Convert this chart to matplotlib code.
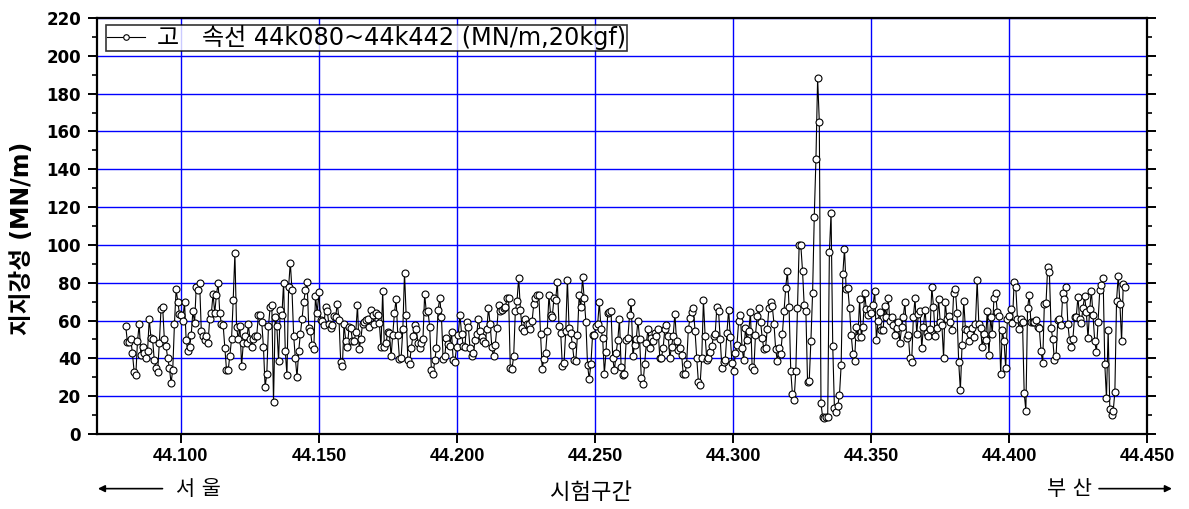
import numpy as np
import matplotlib
matplotlib.use("Agg")
import matplotlib.pyplot as plt
from matplotlib.ticker import MultipleLocator, FormatStrFormatter

plt.rcParams['font.family'] = ['DejaVu Sans', 'Noto Sans CJK KR']

# stiffness, 44k080 .. 44k442, left to right
seg1 = [57, 48.7, 48.5, 50, 42.6, 33, 31, 49, 58, 42,
        46, 43, 40, 44, 61, 51, 50, 39, 35, 33,
        48, 66, 67, 50, 46.5, 40, 35, 27, 34, 58,
        76.5, 70, 63.5, 63, 60, 70, 49.5, 44, 46, 52.6,
        65, 58.6, 78, 76, 80, 54.5, 52, 49.5, 52, 48,
        61, 64, 74, 64, 73.5, 80, 64, 58, 57.7, 45.5,
        34, 33.7, 41.5, 50, 71, 95.6, 56.7, 50, 57, 36,
        48, 52, 48, 58, 50, 46, 50, 52, 52, 63,
        63, 59, 46, 25, 31.6, 57, 67.4, 68, 16.7, 62,
        57, 38.5, 65.6, 63, 80, 44, 31, 78, 90.7]
seg2 = [76, 52, 40, 30, 44, 53, 61, 70, 76, 80.6,
        56, 54.5, 47, 45, 73, 64, 75, 60.5, 60, 57.4,
        67, 65, 58, 56, 57.4, 62.6, 62, 69, 60.5, 38.3,
        36, 58, 49.4, 46, 56.7, 56, 49.4, 49, 54, 68,
        45, 50, 58.4, 59.5, 60.5, 61, 56.7, 65.5, 62.7, 58,
        64, 63, 58.7, 46, 75.7, 46, 48, 54, 53.5, 41,
        52.4, 64, 71.3, 52.4, 39.7, 40.4, 55.3, 85.4, 62.7, 39.4,
        37, 45.4, 52, 57.4, 55.3, 48, 45.7, 48, 50.3, 74,
        64.4, 64.8, 56.7, 34, 31.8, 38.9, 45.6, 65.5, 72, 62,
        39.7, 41, 51, 47.7, 46.4, 54, 39, 38.3, 46, 52.6, 63]
seg3 = [53, 46.4, 46, 59.5, 56.7, 45.4, 41, 42.7, 49.6, 53,
        61, 54.5, 51.4, 49.3, 48, 55.5, 66.5, 58, 46, 41,
        47, 56, 68, 65, 65.8, 66.5, 67, 71.8, 71.8, 35,
        34.5, 41, 65, 70.6, 82.6, 65.8, 56, 54.4, 60.6, 58,
        58.4, 55.6, 60, 69, 72, 73.4, 73.4, 53, 34.5, 39.8,
        42.6, 54.4, 73.4, 63, 62, 72, 71, 80.4, 57, 53.5,
        36, 37.6, 54.4, 81.7, 56, 53.5, 47, 39, 38.5, 52.6,
        73.4, 67, 82.8, 71.8, 59.5, 36.4, 29, 37, 52.6, 52.6,
        57, 58, 69.7, 55.6, 50.7, 32, 43.2, 64, 64.4, 64.8,
        40, 33.7, 42.7, 49.6, 61, 35.3, 31.3, 32, 49.6, 50.7, 63, 69.7]
seg4 = [41.2, 47.3, 50.3, 60, 50.3, 29.7, 26.2, 37, 48, 55.6,
        45.4, 51, 49, 53.5, 52, 55.6, 40.4, 40.4, 45.4, 55.6,
        57.4, 52, 40.4, 46, 52, 63.7, 49, 44.3, 45.6, 42,
        31.5, 31.6, 37, 55.3, 61.4, 64.4, 66.9, 54.5, 40.4, 27.4,
        26, 40.4, 70.7, 52, 39.3, 40.2, 43.5, 46.4, 52, 53,
        67.2, 65, 50.3, 35, 38, 39.3, 53.5, 65.8, 51.4, 37.3,
        33.3, 42.6, 47.3, 60, 63.2, 45.6, 39, 56, 49.6, 54.5,
        64.4, 35.5, 33.8, 52.6, 62.3, 66.5, 59.5, 51, 44.7, 45.4,
        55.3, 66.7, 69.7, 67.6, 58.4, 45, 38.7, 45.7, 42.3, 52.8,
        65, 77.4, 86.3, 67.2, 33.4, 21, 18.2, 33.4, 66.5, 99.7, 99.7]
seg5 = [86.4, 68, 65.2, 27.6, 28.2, 49.4, 74.4, 115, 145.5, 188.2,
        165.2, 16.2, 8.8, 8.6, 8.8, 9.0, 96, 117, 46.7, 13.9, 11.8,
        15, 20.6, 36.3, 84.6, 98, 76.5, 77, 66.4, 52.4, 42.5,
        38.6, 56.8, 51.1, 71.2, 51.5, 56.8, 74.4, 66, 62.8, 66.3,
        64.2, 68, 75.5, 49.7, 60, 64.5, 55, 55, 67.9, 61.7,
        72, 60, 61.7, 57.7, 52.4, 56, 59, 48.3, 56.4, 61.7,
        70, 50.8, 52.2, 40, 38.2, 61.7, 71.8, 53, 63.4, 65.2,
        45.3, 56.8, 65.6, 53.3, 52, 55.8, 77.6, 67.3, 52, 56,
        71.2, 59.4, 57.5, 40.4, 70, 60.6, 62.4, 59.4, 54.8, 74.4,
        76.9, 63.8, 38, 23.2, 47, 70.5, 55.7, 55, 49]
seg6 = [53, 56, 51.4, 58.4, 81.3, 58, 56, 46, 52.8, 49.6,
        65, 41.8, 62, 53, 72, 74.7, 64.4, 62.3, 32, 54.9,
        49, 35, 61, 62.3, 66, 58.7, 80.3, 77.8, 61, 55.6,
        61, 59, 21.7, 12.3, 66.5, 73.5, 59, 59, 59.5, 60.2,
        56.7, 56, 44, 37.3, 68.5, 69.3, 88.3, 85.8, 56.3, 50.3,
        39, 41.2, 60.2, 61, 57.4, 74.7, 71.2, 77.8, 58.4, 49.6,
        46, 50.3, 62, 62, 72.5, 61, 58.7, 66.9, 72.9, 64.4,
        50.7, 66, 75.7, 62.7, 49.3, 43.3, 59.3, 76, 78.8, 82.7,
        37, 19, 54.9, 13, 10.1, 12, 22.4, 70.6, 83.8, 69,
        49.1, 79.5, 78]

stiff = np.array( seg1 + seg2 + seg3 + seg4 + seg5 + seg6 )
km_start = 44.080
km_end = 44.442
km = np.linspace( km_start, km_end, len( stiff ) )

legend_label = "고   속선 44k080~44k442 (MN/m,20kgf)"
xticks = [44.100, 44.150, 44.200, 44.250, 44.300, 44.350, 44.400, 44.450]

fig = plt.figure( figsize=(11.89, 5.09), dpi=100 )
ax = fig.add_axes( [0.0816, 0.1473, 0.8831, 0.8173] )

ax.plot( km, stiff, '-', color='black', lw=0.8, marker='o', markersize=5,
         markerfacecolor='white', markeredgecolor='black', markeredgewidth=0.8,
         label=legend_label, zorder=3 )

ax.set_xlim( 44.0696, 44.450 )
ax.set_ylim( 0, 220 )
ax.set_xticks( xticks )
ax.xaxis.set_major_formatter( FormatStrFormatter( '%.3f' ) )
ax.yaxis.set_major_locator( MultipleLocator( 20 ) )
ax.yaxis.set_minor_locator( MultipleLocator( 10 ) )

ax.grid( True, which='major', color='#0000ff', lw=1.0, zorder=1 )
ax.set_axisbelow( True )

for sp in ax.spines.values() :
    sp.set_linewidth( 1.6 )
    sp.set_color( 'black' )

ax.tick_params( axis='both', which='major', direction='out', length=6.5, width=1.4 )
ax.tick_params( axis='y', which='minor', direction='out', length=3.5, width=1.2 )
ax.tick_params( axis='y', which='both', right=True )
ax.tick_params( axis='y', labelsize=12, pad=5 )
for lab in ax.get_yticklabels() :
    lab.set_fontweight( 'bold' )
for lab in ax.get_xticklabels() :
    lab.set_family( ['Liberation Sans Narrow', 'Liberation Sans'] )
    lab.set_fontweight( 'bold' )
    lab.set_fontsize( 13 )

ax.set_ylabel( "지지강성 (MN/m)", fontsize=17, fontweight='bold' )
ax.yaxis.set_label_coords( -0.060, 0.47 )

leg = ax.legend( loc='upper left', bbox_to_anchor=(0.009, 0.984), fontsize=17.3,
                 frameon=True, fancybox=False, edgecolor='black', shadow=False,
                 handlelength=1.6, borderpad=0.02, handletextpad=0.5, borderaxespad=0,
                 markerscale=0.8 )
leg.get_frame().set_linewidth( 1.2 )

# bottom captions
fig.text( 0.497, 0.033, "시험구간", ha='center', va='center', fontsize=16 )
fig.text( 0.148, 0.040, "서 울", ha='left', va='center', fontsize=15 )
fig.text( 0.918, 0.040, "부 산", ha='right', va='center', fontsize=15 )
fig.add_artist( matplotlib.patches.FancyArrowPatch( (0.139, 0.040), (0.080, 0.040),
                transform=fig.transFigure, arrowstyle='-|>', mutation_scale=10,
                color='black', lw=1.2 ) )
fig.add_artist( matplotlib.patches.FancyArrowPatch( (0.922, 0.040), (0.988, 0.040),
                transform=fig.transFigure, arrowstyle='-|>', mutation_scale=10,
                color='black', lw=1.2 ) )

fig.savefig( "out.png", dpi=100 )
